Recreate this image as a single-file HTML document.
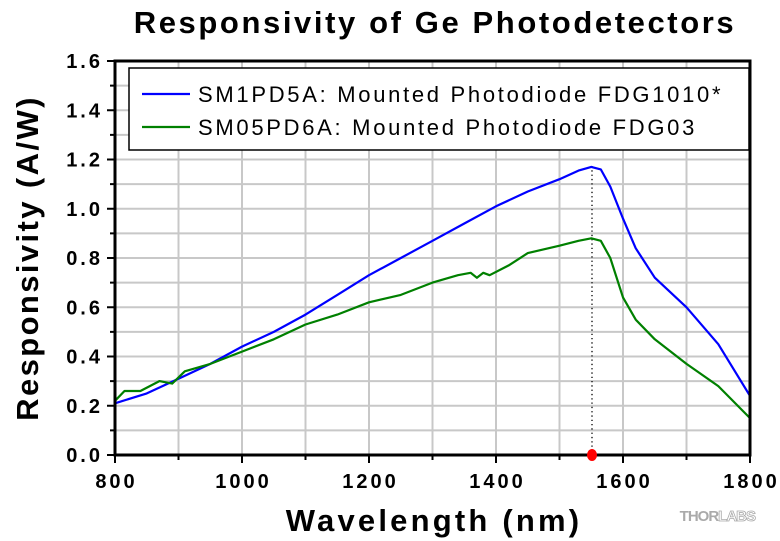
<!DOCTYPE html>
<html><head><meta charset="utf-8"><style>
body{margin:0;background:#fff;}
svg{display:block;font-family:"Liberation Sans",Arial,sans-serif;}
</style></head><body>
<svg id="s" width="780" height="541" viewBox="0 0 780 541" xmlns="http://www.w3.org/2000/svg">
<text x="435" y="33" text-anchor="middle" font-size="31" font-weight="bold" letter-spacing="2.6">Responsivity of Ge Photodetectors</text>
<g id="grid"></g>
<line x1="592" y1="166" x2="592" y2="455" stroke="#000" stroke-width="1.3" stroke-dasharray="1.3,3"/>
<path id="b" fill="none" stroke="#0000ff" stroke-width="2.2" stroke-linejoin="round"/>
<path id="g" fill="none" stroke="#008000" stroke-width="2.2" stroke-linejoin="round"/>
<rect x="115" y="61" width="635" height="394" fill="none" stroke="#000" stroke-width="3"/>
<g id="ticks"></g>
<ellipse cx="592" cy="455" rx="5" ry="6" fill="#ff0000"/>
<rect x="129" y="68" width="620" height="82" fill="#fff" stroke="#000" stroke-width="1.5"/>
<line x1="142" y1="94" x2="190" y2="94" stroke="#0000ff" stroke-width="2.2"/>
<line x1="142" y1="127" x2="190" y2="127" stroke="#008000" stroke-width="2.2"/>
<text x="198" y="102" font-size="22" letter-spacing="2.7">SM1PD5A: Mounted Photodiode FDG1010*</text>
<text x="198" y="135" font-size="22" letter-spacing="2.7">SM05PD6A: Mounted Photodiode FDG03</text>
<text x="434" y="531" text-anchor="middle" font-size="31" font-weight="bold" letter-spacing="3.2">Wavelength (nm)</text>
<text transform="translate(38,258) rotate(-90)" text-anchor="middle" font-size="31" font-weight="bold" letter-spacing="2.4">Responsivity (A/W)</text>
<text x="755" y="521" text-anchor="end" font-size="15" font-weight="bold" fill="#aaa" letter-spacing="-1">THOR<tspan fill="#fff" stroke="#aaa" stroke-width="0.8">LABS</tspan></text>
</svg>
<script>
var X=function(w){return 115+(w-800)*0.635},Y=function(r){return 455-r*246.25};
var s='',t='';
for(var w=900;w<1800;w+=100)s+='<line x1="'+X(w)+'" y1="61" x2="'+X(w)+'" y2="455" stroke="#c8c8c8" stroke-width="2"/>';
for(var i=1;i<16;i++)s+='<line x1="115" y1="'+Y(i/10)+'" x2="750" y2="'+Y(i/10)+'" stroke="#c8c8c8" stroke-width="2"/>';
document.getElementById('grid').innerHTML=s;
for(var w=800;w<=1800;w+=100){var maj=w%200==0;t+='<line x1="'+X(w)+'" y1="455" x2="'+X(w)+'" y2="'+(maj?463:460)+'" stroke="#000" stroke-width="2"/>';if(maj)t+='<text x="'+(X(w)+1.5)+'" y="488" text-anchor="middle" font-size="20" font-weight="bold" letter-spacing="3">'+w+'</text>';}
for(var i=0;i<=16;i++){var maj=i%2==0;t+='<line x1="'+(maj?107:110)+'" y1="'+Y(i/10)+'" x2="115" y2="'+Y(i/10)+'" stroke="#000" stroke-width="2"/>';if(maj)t+='<text x="103" y="'+(Y(i/10)+7)+'" text-anchor="end" font-size="20" font-weight="bold" letter-spacing="3">'+(i/10).toFixed(1)+'</text>';}
document.getElementById('ticks').innerHTML=t;
function P(d){return 'M'+d.map(function(p){return X(p[0]).toFixed(1)+','+Y(p[1]).toFixed(1)}).join('L')}
document.getElementById('b').setAttribute('d',P([[800,.21],[850,.25],[900,.31],[950,.37],[1000,.44],[1050,.50],[1100,.57],[1150,.65],[1200,.73],[1250,.80],[1300,.87],[1350,.94],[1400,1.01],[1450,1.07],[1500,1.12],[1530,1.155],[1550,1.17],[1565,1.16],[1580,1.09],[1600,.96],[1620,.84],[1650,.72],[1700,.60],[1750,.45],[1800,.24]]));
document.getElementById('g').setAttribute('d',P([[800,.22],[815,.26],[840,.26],[870,.30],[890,.29],[910,.34],[950,.37],[1000,.42],[1050,.47],[1100,.53],[1150,.57],[1200,.62],[1250,.65],[1300,.70],[1340,.73],[1360,.74],[1370,.72],[1380,.74],[1390,.73],[1420,.77],[1450,.82],[1500,.85],[1530,.87],[1550,.88],[1565,.87],[1580,.80],[1600,.64],[1620,.55],[1650,.47],[1700,.37],[1750,.28],[1800,.15]]));
</script>
</body></html>
